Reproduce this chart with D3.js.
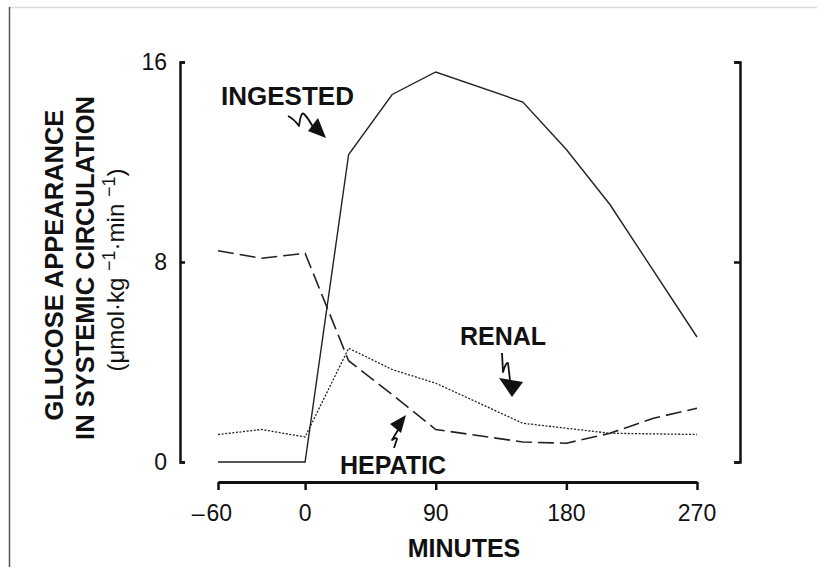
<!DOCTYPE html>
<html>
<head>
<meta charset="utf-8">
<script src="https://cdn.jsdelivr.net/npm/d3@7"></script>
<style>
  body { margin: 0; background: #fff; }
  svg { display: block; font-family: "Liberation Sans", Arial, sans-serif; }
</style>
</head>
<body>
<div class="chart"></div>
<script>
// Données
const minutes = [-60, -30, 0, 30, 60, 90, 150, 180, 210, 240, 270]
const ingested = [0, 0, 0, 12.3, 14.7, 15.6, 14.4, 12.5, 10.3, null, 5.0]
const hepatic = [8.45, 8.15, 8.35, 4.05, 2.7, 1.3, 0.8, 0.75, 1.15, 1.75, 2.15]
const renal = [1.1, 1.3, 1.0, 4.55, 3.7, 3.15, 1.55, 1.35, 1.15, null, 1.1]
const xTicks = [-60, 0, 90, 180, 270]
const yTicks = [0, 8, 16]

const width = 817,
    height = 567

const svg = d3.select('.chart')
    .append('svg')
    .attr('width', width)
    .attr('height', height)

// Cadre de la capture (bord haut et gauche)
svg.append('line')
    .attr('x1', 9).attr('x2', width).attr('y1', 7.5).attr('y2', 7.5)
    .attr('stroke', '#dcdcdc').attr('stroke-width', 1.5)
svg.append('line')
    .attr('x1', 9.5).attr('x2', 9.5).attr('y1', 7).attr('y2', height)
    .attr('stroke', '#555').attr('stroke-width', 1.5)

// Echelles
const x = d3.scaleLinear().domain([-60, 270]).range([218, 697])
const y = d3.scaleLinear().domain([0, 16]).range([462, 62])
const xAxisY = 482
const yLeft = 180, yRight = 740

const ink = '#111'

// Axe Y gauche (ticks vers l'intérieur)
const gl = svg.append('g').attr('transform', `translate(${yLeft},0)`)
    .call(d3.axisRight(y).tickValues(yTicks).tickSize(5).tickSizeOuter(5).tickFormat(''))
gl.select('.domain').attr('stroke', ink).attr('stroke-width', 2.5)
gl.selectAll('.tick line').attr('stroke', ink).attr('stroke-width', 2.5)

svg.append('g')
    .selectAll('text')
    .data(yTicks)
    .join('text')
    .attr('x', 167)
    .attr('y', d => y(d))
    .attr('dy', '0.36em')
    .attr('text-anchor', 'end')
    .attr('font-size', 23)
    .attr('fill', ink)
    .text(d => d)

// Axe Y droit
const gr = svg.append('g').attr('transform', `translate(${yRight},0)`)
    .call(d3.axisLeft(y).tickValues(yTicks).tickSize(6).tickSizeOuter(6).tickFormat(''))
gr.select('.domain').attr('stroke', ink).attr('stroke-width', 2.5)
gr.selectAll('.tick line').attr('stroke', ink).attr('stroke-width', 2.5)

// Axe X
const gx = svg.append('g').attr('transform', `translate(0,${xAxisY})`)
    .call(d3.axisBottom(x).tickValues(xTicks).tickSize(8).tickSizeOuter(0).tickFormat(''))
gx.select('.domain').attr('stroke', ink).attr('stroke-width', 3)
gx.selectAll('.tick line').attr('stroke', ink).attr('stroke-width', 2.5)

svg.append('g')
    .selectAll('text')
    .data(xTicks)
    .join('text')
    .attr('x', d => d < 0 ? x(d) - 6 : x(d))
    .attr('y', 521)
    .attr('text-anchor', 'middle')
    .attr('font-size', 23)
    .attr('fill', ink)
    .text(d => d < 0 ? '\u2013\u200a' + Math.abs(d) : d)

svg.append('text')
    .attr('x', 464)
    .attr('y', 557)
    .attr('text-anchor', 'middle')
    .attr('font-size', 25)
    .attr('font-weight', 'bold')
    .attr('fill', ink)
    .text('MINUTES')

// Titre de l'axe Y (3 lignes pivotées)
const yTitle = svg.append('g').attr('fill', ink)
yTitle.append('text')
    .attr('transform', 'translate(63,265) rotate(-90)')
    .attr('text-anchor', 'middle')
    .attr('font-size', 25.5)
    .attr('font-weight', 'bold')
    .text('GLUCOSE APPEARANCE')
yTitle.append('text')
    .attr('transform', 'translate(94,268) rotate(-90)')
    .attr('text-anchor', 'middle')
    .attr('font-size', 25.5)
    .attr('font-weight', 'bold')
    .text('IN SYSTEMIC CIRCULATION')
const units = yTitle.append('text')
    .attr('transform', 'translate(124,270) rotate(-90)')
    .attr('text-anchor', 'middle')
    .attr('font-size', 24)
units.append('tspan').text('(\u03bcmol\u00b7kg ')
units.append('tspan').attr('dy', -9).attr('font-size', 18).text('\u22121')
units.append('tspan').attr('dy', 9).text('\u00b7min ')
units.append('tspan').attr('dy', -9).attr('font-size', 18).text('\u22121')
units.append('tspan').attr('dy', 9).text(')')

// Courbes
const line = d3.line()
    .x(d => x(d[0]))
    .y(d => y(d[1]))

const series = [
    { values: ingested, dash: null, w: 1.4 },
    { values: hepatic, dash: '16,6', w: 1.6 },
    { values: renal, dash: '2,1.6', w: 1.3 }
]

series.forEach(s => {
    const pts = minutes.map((m, i) => [m, s.values[i]]).filter(d => d[1] !== null)
    svg.append('path')
        .datum(pts)
        .attr('d', line)
        .attr('fill', 'none')
        .attr('stroke', '#222')
        .attr('stroke-width', s.w)
        .attr('stroke-dasharray', s.dash)
})

// Etiquettes des courbes avec leurs flèches
const labels = [
    { text: 'INGESTED', x: 221, y: 105, size: 26 },
    { text: 'RENAL', x: 460, y: 345, size: 25 },
    { text: 'HEPATIC', x: 340, y: 474, size: 25 }
]
svg.append('g')
    .selectAll('text')
    .data(labels)
    .join('text')
    .attr('x', d => d.x)
    .attr('y', d => d.y)
    .attr('font-size', d => d.size)
    .attr('font-weight', 'bold')
    .attr('fill', ink)
    .text(d => d.text)

const arrows = [
    { squiggle: 'M288,116 Q294,119 299,126 Q301,111 304,114 Q308,118 313,127', head: '326,138 308,131 318,118' },
    { squiggle: 'M502,353 L503,372 Q506,362 508,363 L510,380', head: '512,397 499,378 523,382' },
    { squiggle: 'M398,430 L392,440 Q396,437 397,439 L394,448', head: '406,415 390,424 401,433' }
]
arrows.forEach(a => {
    svg.append('path')
        .attr('d', a.squiggle)
        .attr('fill', 'none')
        .attr('stroke', ink)
        .attr('stroke-width', 1.8)
        .attr('stroke-linejoin', 'round')
    svg.append('polygon')
        .attr('points', a.head)
        .attr('fill', ink)
})
</script>
</body>
</html>
